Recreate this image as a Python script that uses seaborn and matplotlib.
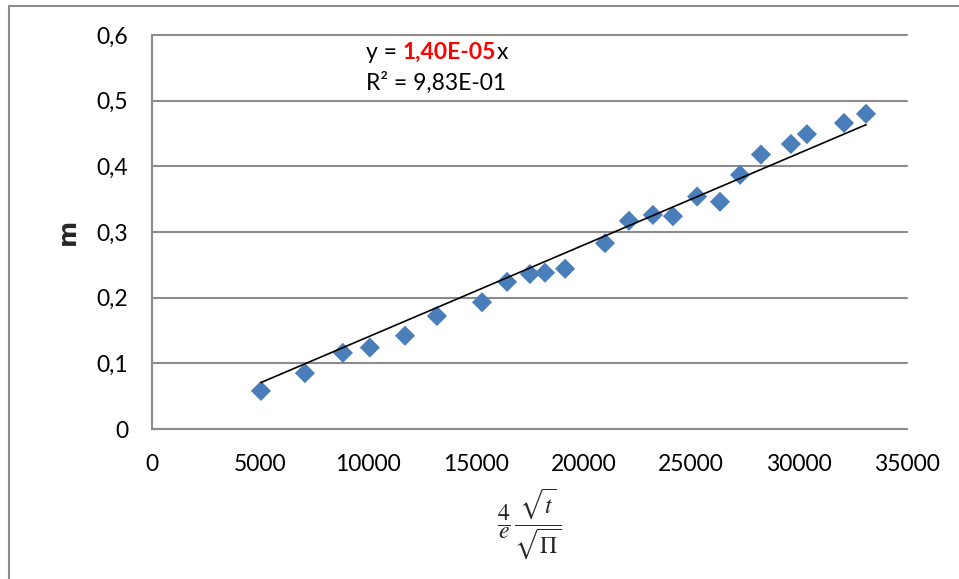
import numpy as np
import pandas as pd
import seaborn as sns
import matplotlib.pyplot as plt
from matplotlib.patches import Rectangle
from matplotlib.offsetbox import TextArea, HPacker, VPacker, AnnotationBbox

# datos
x_vals = [5050, 7090, 8850, 10100, 11730, 13210, 15300, 16460, 17520, 18220,
          19150, 21000, 22110, 23220, 24150, 25270, 26330, 27260, 28230, 29620,
          30360, 32080, 33100]
m_vals = [0.058, 0.085, 0.116, 0.124, 0.142, 0.172, 0.193, 0.224, 0.236, 0.238,
          0.244, 0.283, 0.317, 0.326, 0.324, 0.354, 0.346, 0.387, 0.418, 0.434,
          0.449, 0.466, 0.480]
slope = 1.40e-05
x_ticks = [0, 5000, 10000, 15000, 20000, 25000, 30000, 35000]
y_ticks = [0, 0.1, 0.2, 0.3, 0.4, 0.5, 0.6]
y_tick_labels = ["0", "0,1", "0,2", "0,3", "0,4", "0,5", "0,6"]

df = pd.DataFrame({"x": x_vals, "m": m_vals})
trend = pd.DataFrame({"x": [min(x_vals), max(x_vals)]})
trend["m"] = slope * trend["x"]

sns.set_style("white")
plt.rcParams['font.family'] = ['Lato', 'DejaVu Sans']
plt.rcParams['mathtext.fontset'] = 'stix'

grey = "#8c8c8c"
fig = plt.figure(figsize=(9.59, 5.79), dpi=100)
ax = fig.add_axes([152/959, 1-429/579, 755/959, 394/579])

sns.scatterplot(data=df, x="x", y="m", marker="D", s=105, color="#4a7ebb",
                edgecolor="none", ax=ax, zorder=3)
sns.lineplot(data=trend, x="x", y="m", color="black", linewidth=1.2, ax=ax, zorder=4)

ax.set_xlim(0, 35000)
ax.set_ylim(0, 0.6)
ax.set_xticks(x_ticks)
ax.set_xticklabels([str(t) for t in x_ticks])
ax.set_yticks(y_ticks)
ax.set_yticklabels(y_tick_labels)
ax.tick_params(axis="both", labelsize=16.5, colors=grey, labelcolor="black",
               length=5, width=1.5, direction="out")
ax.tick_params(axis="y", pad=12)
ax.tick_params(axis="x", pad=13)

ax.yaxis.grid(True, color=grey, linewidth=1.5)
for gl in ax.get_ygridlines():
    gl.set_clip_on(False)
ax.set_axisbelow(True)
for s in ["top", "right"]:
    ax.spines[s].set_visible(False)
for s in ["left", "bottom"]:
    ax.spines[s].set_color(grey)
    ax.spines[s].set_linewidth(1.5)

ax.set_ylabel("m", fontsize=18, fontweight="heavy", rotation=90,
              family=["DejaVu Sans"])
ax.yaxis.set_label_coords(-0.095, 0.5)
ax.set_xlabel(r"$\dfrac{4}{e}\,\dfrac{\sqrt{t}}{\sqrt{\Pi}}$", fontsize=17)
ax.xaxis.set_label_coords(0.5, -0.145)

# ecuacion de la linea de tendencia
fs = 16.5
line1 = HPacker(children=[TextArea("y = ", textprops=dict(fontsize=fs, color="black")),
                          TextArea("1,40E-05", textprops=dict(fontsize=fs, color="red", fontweight="bold")),
                          TextArea("x", textprops=dict(fontsize=fs, color="black"))],
                sep=0, pad=0, align="baseline")
line2 = TextArea("R² = 9,83E-01", textprops=dict(fontsize=fs, color="black"))
box = VPacker(children=[line1, line2], sep=6, pad=0, align="left")
ab = AnnotationBbox(box, (366/959, 1-42/579), xycoords="figure fraction",
                    box_alignment=(0, 1), frameon=False, pad=0)
fig.add_artist(ab)

# borde del area del grafico
fig.add_artist(Rectangle((9/959, -0.1), 1.0, 1.1 - 6/579, transform=fig.transFigure,
                         fill=False, edgecolor=grey, linewidth=1.5))

fig.savefig("out.png", dpi=100)
